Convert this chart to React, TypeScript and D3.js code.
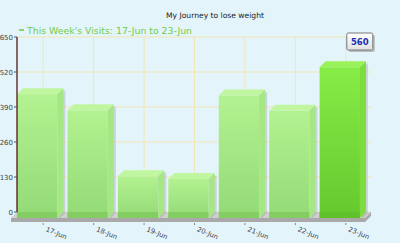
import React from "react";
import * as d3 from "d3";

const categories = ["17-Jun", "18-Jun", "19-Jun", "20-Jun", "21-Jun", "22-Jun", "23-Jun"];
const visits = [460, 400, 155, 145, 455, 398, 560];
const yTicks = [0, 130, 260, 390, 520, 650];
const highlightIndex = 6;
const title = "My Journey to lose weight";
const legendLabel = "This Week's Visits: 17-Jun to 23-Jun";

const W = 400;
const H = 243;
const DX = 6;
const DY = 6;
const FONT = "DejaVu Sans, Verdana, sans-serif";

export default function App() {
  const x = d3.scaleBand<string>().domain(categories).range([18, 371]).paddingInner(0.2).paddingOuter(0.1);
  const y = d3.scaleLinear().domain([0, 650]).range([212, 37]);
  const bw = x.bandwidth();
  const y0 = y(0);

  return (
    <svg width={W} height={H} style={{ position: "absolute", left: 0, top: 0, display: "block" }}>
      <defs>
        <linearGradient id="frontLight" x1="0" y1="0" x2="0" y2="1">
          <stop offset="0" stopColor="#b3f290" />
          <stop offset="1" stopColor="#93da77" />
        </linearGradient>
        <linearGradient id="frontHi" x1="0" y1="0" x2="0" y2="1">
          <stop offset="0" stopColor="#86ec46" />
          <stop offset="1" stopColor="#64c92e" />
        </linearGradient>
        <linearGradient id="boxGrad" x1="0" y1="0" x2="0" y2="1">
          <stop offset="0" stopColor="#ffffff" />
          <stop offset="1" stopColor="#e2e2e2" />
        </linearGradient>
      </defs>
      <rect x={0} y={0} width={W} height={H} fill="#e4f4fb" />

      {/* gridlines */}
      {yTicks.map((t) => (
        <line key={"h" + t} x1={17} x2={371} y1={y(t)} y2={y(t)} stroke="#f2e6b4" strokeWidth={1} />
      ))}
      {categories.map((c) => (
        <line key={"v" + c} x1={x(c)! + bw / 2} x2={x(c)! + bw / 2} y1={37} y2={y0} stroke="#f2e6b4" strokeWidth={1} />
      ))}

      {/* floor */}
      <polygon
        points={`${17 - DX},${y0 + DY} ${371 - DX},${y0 + DY} ${371},${y0} ${17},${y0}`}
        fill="#d0d0d0"
      />
      <polygon
        points={`${17 - DX},${y0 + DY} ${371 - DX},${y0 + DY} ${371},${y0} ${371},${y0 + 4} ${371 - DX},${y0 + DY + 4} ${17 - DX},${y0 + DY + 4}`}
        fill="#a9a9a9"
      />

      {/* bars */}
      {visits.map((v, i) => {
        const c = categories[i];
        const bx = x(c)!;
        const fx = bx - DX;
        const ty = y(v);
        const hi = i === highlightIndex;
        const front = hi ? "url(#frontHi)" : "url(#frontLight)";
        const top = hi ? "#9af259" : "#c0f6a0";
        const side = hi ? "#7ddc3e" : "#a5e685";
        const bottom = hi ? "#5fc22a" : "#84cd62";
        return (
          <g key={c}>
            <polygon
              points={`${fx + bw},${ty + DY} ${fx + bw + DX + 2},${ty + 2} ${fx + bw + DX + 2},${y0 + 1} ${fx + bw + 2},${y0 + DY + 1}`}
              fill="#9a9a9a"
              opacity={0.35}
            />
            <rect x={fx} y={ty + DY} width={bw} height={y0 - ty} fill={front} />
            <rect x={fx} y={y0} width={bw} height={DY} fill={bottom} />
            <polygon points={`${fx},${ty + DY} ${bx},${ty} ${bx + bw},${ty} ${fx + bw},${ty + DY}`} fill={top} />
            <polygon points={`${fx + bw},${ty + DY} ${bx + bw},${ty} ${bx + bw},${y0} ${fx + bw},${y0 + DY}`} fill={side} />
          </g>
        );
      })}

      {/* y axis */}
      <line x1={17} x2={17} y1={37} y2={y0} stroke="#4a0500" strokeWidth={1.2} />
      {yTicks.map((t) => (
        <g key={"t" + t}>
          <line x1={14} x2={17} y1={y(t)} y2={y(t)} stroke="#555" />
          <text x={13} y={y(t) + 2.5} textAnchor="end" fontSize={7} fontFamily={FONT} fill="#444">
            {t}
          </text>
        </g>
      ))}

      {/* x labels */}
      {categories.map((c) => {
        const cx = x(c)! + bw / 2;
        return (
          <g key={"x" + c}>
            <line x1={cx} x2={cx} y1={y0 + DY + 5} y2={y0 + DY + 7} stroke="#888" />
            <text
              transform={`translate(${cx + 2},${y0 + 19}) rotate(22)`}
              fontSize={6.8}
              fontFamily={FONT}
              fill="#444"
            >
              {c}
            </text>
          </g>
        );
      })}

      {/* title & legend */}
      <text x={215} y={18} textAnchor="middle" fontSize={7.6} fontFamily={FONT} fill="#222">
        {title}
      </text>
      <line x1={19} x2={24} y1={30} y2={30} stroke="#6ccb3e" strokeWidth={1.5} />
      <text x={27} y={33.5} fontSize={9} fontFamily={FONT} fill="#72cc48" textLength={165} lengthAdjust="spacingAndGlyphs">
        {legendLabel}
      </text>

      {/* value box */}
      {(() => {
        const c = categories[highlightIndex];
        const cx = x(c)! + bw / 2 + 14;
        return (
          <g>
            <rect x={cx - 11} y={35} width={26} height={17} fill="#8a8a8a" opacity={0.5} rx={1.5} />
            <rect x={cx - 13} y={33} width={26} height={17} fill="url(#boxGrad)" stroke="#777" strokeWidth={1} rx={1.5} />
            <text x={cx} y={45} textAnchor="middle" fontSize={8.5} fontWeight="bold" fontFamily={FONT} fill="#2030b0">
              {visits[highlightIndex]}
            </text>
          </g>
        );
      })()}
    </svg>
  );
}
